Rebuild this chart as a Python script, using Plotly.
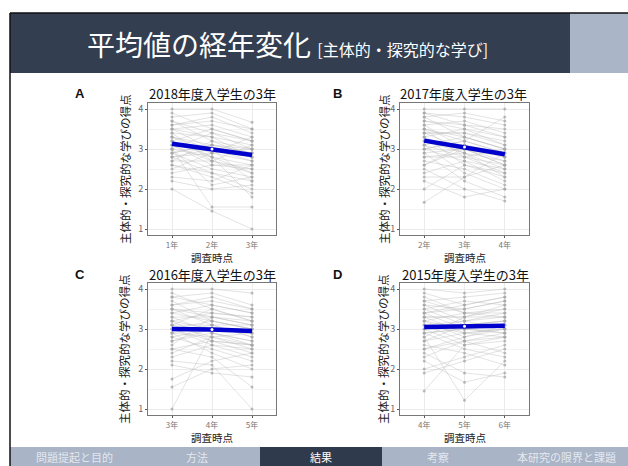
import plotly.graph_objects as go

W, H = 628, 466
FONT = "Noto Sans CJK JP"

# ---------------- data ----------------
panel_titles = ["2018年度入学生の3年", "2017年度入学生の3年", "2016年度入学生の3年", "2015年度入学生の3年"]
panel_letters = ["A", "B", "C", "D"]
tick_labels = [["1年", "2年", "3年"], ["2年", "3年", "4年"], ["3年", "4年", "5年"], ["4年", "5年", "6年"]]
y_title = "主体的・探究的な学びの得点"
x_title = "調査時点"

A_t1 = [4.0, 3.9, 3.8, 3.7, 3.6, 3.5, 3.5, 3.4, 3.4, 3.3, 3.3, 3.2, 3.2, 3.1, 3.1, 3.0, 3.0, 3.0, 2.9, 2.9, 2.8, 2.8, 2.7, 2.7, 2.6, 2.5, 2.4, 2.3, 2.2, 2.0, 3.6, 3.3, 3.0, 2.8, 3.5, 3.2, 2.9, 3.7, 3.1, 2.6]
A_t2 = [4.0, 3.5, 3.9, 3.2, 3.8, 3.0, 3.6, 2.7, 3.3, 3.1, 2.8, 3.5, 2.9, 3.0, 2.6, 3.4, 2.8, 1.55, 3.1, 2.5, 3.0, 2.4, 2.7, 3.2, 2.3, 2.9, 2.6, 2.2, 2.0, 1.45, 3.7, 3.0, 2.1, 2.9, 3.3, 2.8, 3.1, 3.4, 2.7, 2.4]
A_t3 = [3.67, 3.2, 3.5, 3.0, 3.4, 2.8, 3.3, 2.5, 3.1, 2.9, 2.4, 3.2, 2.7, 2.2, 2.6, 3.0, 1.8, 1.55, 2.9, 2.3, 2.7, 2.0, 3.1, 2.8, 1.9, 3.3, 2.5, 2.6, 2.1, 1.0, 3.5, 2.9, 2.3, 3.0, 2.8, 2.6, 3.0, 3.2, 2.4, 2.2]

B_t1 = [4.0, 3.9, 3.8, 3.8, 3.7, 3.6, 3.6, 3.5, 3.5, 3.4, 3.4, 3.3, 3.3, 3.2, 3.2, 3.1, 3.1, 3.0, 3.0, 2.9, 2.9, 2.8, 2.7, 2.6, 2.5, 2.4, 2.3, 2.2, 2.0, 1.67, 3.7, 3.5, 3.3, 3.0, 2.8, 3.4, 3.1, 2.6, 3.9, 3.2]
B_t2 = [4.0, 3.6, 3.9, 3.3, 3.5, 3.0, 3.7, 3.2, 2.8, 3.4, 3.0, 2.6, 3.5, 3.1, 2.9, 2.4, 3.3, 2.7, 3.2, 2.2, 3.0, 2.8, 2.5, 3.1, 2.0, 2.7, 2.3, 1.8, 2.6, 2.3, 3.6, 3.3, 2.9, 3.2, 2.9, 3.4, 2.8, 3.0, 3.8, 3.1]
B_t3 = [4.0, 3.3, 3.7, 3.0, 3.1, 2.6, 3.4, 2.9, 2.4, 3.2, 2.6, 2.3, 3.3, 2.8, 2.5, 2.0, 3.0, 2.2, 2.9, 1.8, 2.7, 3.0, 2.1, 2.8, 1.7, 2.5, 2.9, 2.0, 2.4, 2.6, 3.5, 3.0, 2.7, 3.8, 2.3, 3.1, 2.6, 2.8, 3.6, 2.9]

C_t1 = [4.0, 3.9, 3.8, 3.7, 3.6, 3.5, 3.5, 3.4, 3.3, 3.3, 3.2, 3.2, 3.1, 3.1, 3.0, 3.0, 2.9, 2.9, 2.8, 2.8, 2.7, 2.6, 2.5, 2.4, 2.3, 2.2, 2.1, 1.75, 1.55, 1.0, 3.6, 3.4, 3.0, 2.7, 3.2, 3.8, 2.9, 3.1, 2.5, 3.5]
C_t2 = [4.0, 3.5, 3.9, 3.2, 3.8, 3.1, 3.4, 3.6, 2.9, 3.3, 3.0, 2.7, 3.5, 2.8, 3.2, 2.6, 3.1, 2.4, 3.0, 2.5, 2.9, 3.3, 2.3, 2.8, 2.6, 2.1, 1.9, 2.2, 2.0, 2.9, 3.7, 3.2, 2.7, 3.0, 3.4, 3.6, 2.8, 3.1, 2.7, 3.3]
C_t3 = [3.9, 3.2, 3.6, 3.0, 3.5, 2.8, 3.3, 3.4, 2.6, 3.1, 2.9, 2.4, 3.2, 2.5, 3.0, 2.3, 2.8, 2.0, 3.0, 2.2, 2.7, 3.1, 1.55, 2.6, 2.5, 1.0, 1.8, 2.4, 2.1, 2.7, 3.5, 3.0, 2.6, 2.9, 3.3, 3.4, 2.9, 3.1, 2.6, 3.2]

D_t1 = [4.0, 3.9, 3.8, 3.7, 3.6, 3.5, 3.5, 3.4, 3.4, 3.3, 3.3, 3.2, 3.2, 3.1, 3.1, 3.0, 3.0, 2.9, 2.9, 2.8, 2.7, 2.6, 2.5, 2.4, 2.3, 2.2, 2.0, 1.9, 1.45, 2.8, 3.6, 3.2, 3.0, 2.7, 3.4, 3.1, 3.7, 2.5, 3.3, 2.9]
D_t2 = [3.9, 3.6, 3.4, 3.8, 3.2, 3.7, 3.1, 3.5, 3.0, 3.3, 2.9, 3.4, 2.8, 3.2, 2.7, 3.1, 2.6, 3.0, 2.5, 3.3, 2.9, 2.4, 2.8, 1.9, 2.7, 1.67, 2.3, 2.2, 2.6, 1.22, 3.5, 3.0, 3.2, 3.1, 3.6, 2.9, 3.4, 2.7, 3.3, 3.0]
D_t3 = [4.0, 3.8, 3.3, 3.9, 3.0, 3.6, 3.2, 3.7, 2.9, 3.5, 2.8, 3.4, 3.1, 3.3, 2.4, 3.2, 2.7, 3.1, 2.3, 3.6, 3.0, 2.1, 3.0, 1.8, 2.9, 1.9, 2.6, 2.5, 2.8, 2.2, 3.7, 3.1, 3.4, 3.2, 3.8, 3.0, 3.5, 2.8, 3.3, 2.9]

A_mean = [3.13, 3.00, 2.85]
B_mean = [3.21, 3.05, 2.87]
C_mean = [3.00, 2.99, 2.95]
D_mean = [3.05, 3.07, 3.08]
ci_half = [0.045, 0.045, 0.045]

nav_labels = ["問題提起と目的", "方法", "結果", "考察", "本研究の限界と課題"]
active_nav = "結果"

panels = [
    (A_t1, A_t2, A_t3, A_mean),
    (B_t1, B_t2, B_t3, B_mean),
    (C_t1, C_t2, C_t3, C_mean),
    (D_t1, D_t2, D_t3, D_mean),
]

# ---------------- layout helpers (pixel -> paper) ----------------
def px(x):
    return x / W

def py(y):
    return 1 - y / H

def ann(text, x, y, size, color="#111", family=FONT, angle=0):
    return dict(text=text, x=px(x), y=py(y), xref="paper", yref="paper", showarrow=False,
                xanchor="center", yanchor="middle", textangle=angle,
                font=dict(size=size, color=color, family=family))

boxes = [(148, 276, 103, 235), (400, 529, 103, 235), (148, 276, 283, 415), (400, 529, 283, 415)]
letter_pos = [(80, 94), (337, 94), (80, 274), (337, 274)]
title_pos = [(212, 93), (464, 93), (212, 274), (465, 274)]
ytitle_x = [125, 384, 124, 383]
xtitle_y = [257, 257, 437.5, 437.5]

fig = go.Figure()
layout = dict(
    width=W, height=H, margin=dict(l=0, r=0, t=0, b=0),
    paper_bgcolor="white", plot_bgcolor="white", showlegend=False,
    font=dict(family=FONT, color="#222"),
)
annotations = []
shapes = []

xs = [1, 2, 3]
for i, (t1, t2, t3, mean) in enumerate(panels):
    ax = "" if i == 0 else str(i + 1)
    xref, yref = "x" + ax, "y" + ax
    lx, ly = [], []
    for a, b, c in zip(t1, t2, t3):
        lx += xs + [None]
        ly += [a, b, c, None]
    fig.add_trace(go.Scatter(x=lx, y=ly, mode="lines+markers", xaxis=xref, yaxis=yref,
                             line=dict(color="rgba(185,185,185,0.5)", width=0.8),
                             marker=dict(color="rgba(165,165,165,0.75)", size=3),
                             hoverinfo="skip"))
    up = [m + h for m, h in zip(mean, ci_half)]
    lo = [m - h for m, h in zip(mean, ci_half)]
    fig.add_trace(go.Scatter(x=xs, y=up, mode="lines", line=dict(width=0), xaxis=xref, yaxis=yref, hoverinfo="skip"))
    fig.add_trace(go.Scatter(x=xs, y=lo, mode="lines", line=dict(width=0), fill="tonexty",
                             fillcolor="rgba(120,140,255,0.35)", xaxis=xref, yaxis=yref, hoverinfo="skip"))
    fig.add_trace(go.Scatter(x=xs, y=mean, mode="lines", line=dict(color="#0000CC", width=4.5),
                             xaxis=xref, yaxis=yref, hoverinfo="skip"))
    fig.add_trace(go.Scatter(x=[xs[1]], y=[mean[1]], mode="markers", marker=dict(color="white", size=3),
                             xaxis=xref, yaxis=yref, hoverinfo="skip"))

    l, r, t, b = boxes[i]
    layout["xaxis" + ax] = dict(
        domain=[px(l), px(r)], range=[0.4, 3.6], anchor=yref,
        tickvals=xs, ticktext=tick_labels[i], ticks="outside", ticklen=2, tickcolor="#555",
        tickfont=dict(size=8, color="#777", family=FONT),
        showgrid=True, gridcolor="#ebebeb", gridwidth=1,
        showline=True, linecolor="#777", linewidth=1, mirror=True, zeroline=False, fixedrange=True,
    )
    layout["yaxis" + ax] = dict(
        domain=[py(b), py(t)], range=[0.85, 4.15], anchor=xref,
        tickvals=[1, 2, 3, 4], ticks="outside", ticklen=2, tickcolor="#555",
        tickfont=dict(size=9, color="#666", family=FONT),
        showgrid=True, gridcolor="#ebebeb", gridwidth=1,
        minor=dict(tickvals=[1.5, 2.5, 3.5], showgrid=True, gridcolor="#f4f4f4", ticks=""),
        showline=True, linecolor="#777", linewidth=1, mirror=True, zeroline=False, fixedrange=True,
    )
    annotations.append(ann("<b>" + panel_letters[i] + "</b>", letter_pos[i][0], letter_pos[i][1], 13,
                           family="Liberation Sans"))
    annotations.append(ann(panel_titles[i], title_pos[i][0], title_pos[i][1], 13))
    annotations.append(ann(y_title, ytitle_x[i], (t + b) / 2, 11.5, color="#222", angle=-90))
    annotations.append(ann(x_title, (l + r) / 2, xtitle_y[i], 10.5, color="#222"))

# ---------------- slide chrome ----------------
def rect(x0, y0, x1, y1, fill):
    return dict(type="rect", xref="paper", yref="paper", x0=px(x0), x1=px(x1), y0=py(y1), y1=py(y0),
                fillcolor=fill, layer="below", line=dict(width=0))

shapes.append(rect(10, 13, 570, 73, "#333e50"))
shapes.append(rect(570, 13, 628, 73, "#aab5c8"))
shapes.append(rect(10, 447, 628, 466, "#a9b4c6"))
shapes.append(rect(260, 447, 382, 466, "#2f3a4c"))
shapes.append(dict(type="line", xref="paper", yref="paper", x0=px(10), x1=px(10), y0=py(466), y1=py(13),
                   line=dict(color="#111", width=1.5)))
shapes.append(dict(type="line", xref="paper", yref="paper", x0=px(10), x1=px(628), y0=py(13), y1=py(13),
                   line=dict(color="#111", width=1.5)))

annotations.append(ann("平均値の経年変化 <span style='font-size:16px'>[主体的・探究的な学び]</span>",
                       287, 44, 28, color="white"))

nav_x = [74, 197, 321, 438, 566]
for lab, nx in zip(nav_labels, nav_x):
    annotations.append(ann(lab, nx, 457, 11, color="white" if lab == active_nav else "#e3e8f0"))

layout["annotations"] = annotations
layout["shapes"] = shapes
fig.update_layout(**layout)
fig.write_html("out.html", config={"displayModeBar": False},
               post_script="document.body.style.margin='0';document.body.style.overflow='hidden';")
